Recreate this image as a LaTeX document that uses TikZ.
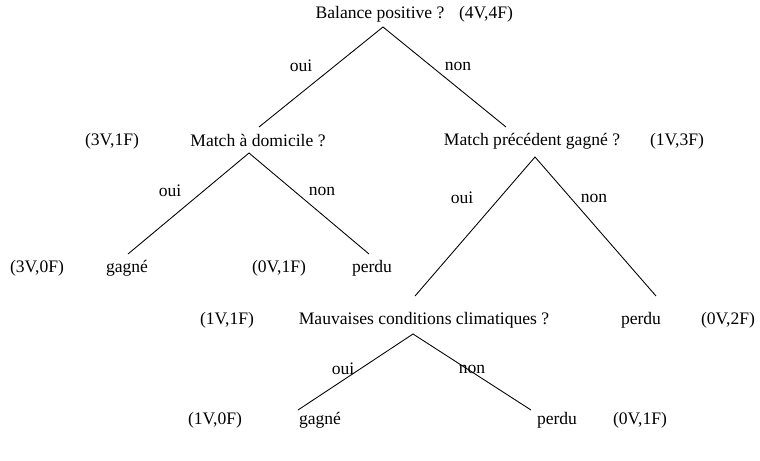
\documentclass[tikz,border=0pt]{standalone}
\usepackage{fontspec}
\setmainfont{Liberation Serif}
\begin{document}
\begin{tikzpicture}[x=0.02cm, y=-0.02cm, font=\fontsize{10}{12}\selectfont,
    branche/.style={black, line width=0.5pt}]
    \useasboundingbox (0,0) rectangle (760,460);

    % Racine
    \node (racine) at (380, 14) {Balance positive ?};
    \node (cRacine) at (486, 14) {(4V,4F)};

    % Niveau 2
    \node (domicile) at (258, 141) {Match à domicile ?};
    \node (cDomicile) at (112, 141) {(3V,1F)};
    \node (precedent) at (532, 141) {Match précédent gagné ?};
    \node (cPrecedent) at (677, 141) {(1V,3F)};

    % Feuilles sous Match a domicile
    \node (gagneA) at (127, 268) {gagné};
    \node (cGagneA) at (37, 268) {(3V,0F)};
    \node (perduA) at (372, 268) {perdu};
    \node (cPerduA) at (279, 268) {(0V,1F)};

    % Sous Match precedent gagne
    \node (meteo) at (424, 320) {Mauvaises conditions climatiques ?};
    \node (cMeteo) at (227, 320) {(1V,1F)};
    \node (perduB) at (641, 320) {perdu};
    \node (cPerduB) at (728, 320) {(0V,2F)};

    % Feuilles sous Mauvaises conditions
    \node (gagneC) at (320, 420) {gagné};
    \node (cGagneC) at (215, 420) {(1V,0F)};
    \node (perduC) at (557, 420) {perdu};
    \node (cPerduC) at (640, 420) {(0V,1F)};

    % Points d'attache des branches
    \coordinate (sRacine) at (383, 27);
    \coordinate (nDomicile) at (259, 127);
    \coordinate (nPrecedent) at (506, 127);
    \coordinate (sDomicile) at (249, 153);
    \coordinate (nGagneA) at (128, 254);
    \coordinate (nPerduA) at (369, 254);
    \coordinate (sPrecedent) at (535, 157);
    \coordinate (nMeteo) at (415, 296);
    \coordinate (nPerduB) at (656, 296);
    \coordinate (sMeteo) at (413, 334);
    \coordinate (nGagneC) at (298, 410);
    \coordinate (nPerduC) at (531, 410);

    % Branches
    \draw[branche] (nDomicile) -- (sRacine) -- (nPrecedent);
    \draw[branche] (nGagneA) -- (sDomicile) -- (nPerduA);
    \draw[branche] (nMeteo) -- (sPrecedent) -- (nPerduB);
    \draw[branche] (nGagneC) -- (sMeteo) -- (nPerduC);

    % Etiquettes oui / non
    \node (oui1) at (301, 66) {oui};
    \node (non1) at (458, 66) {non};
    \node (oui2) at (170, 191) {oui};
    \node (non2) at (322, 191) {non};
    \node (oui3) at (462, 198) {oui};
    \node (non3) at (594, 198) {non};
    \node (oui4) at (343, 369) {oui};
    \node (non4) at (472, 369) {non};
\end{tikzpicture}
\end{document}
